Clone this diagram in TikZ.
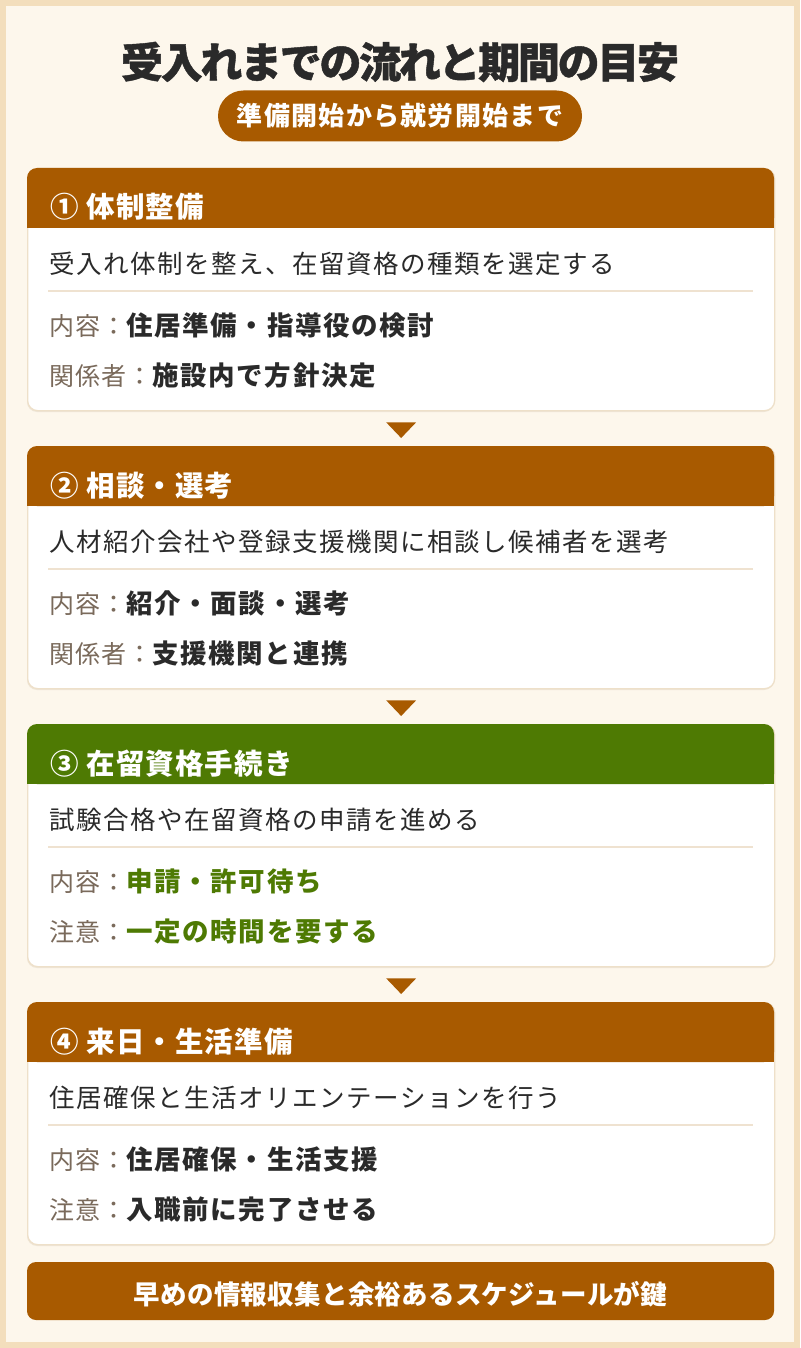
\documentclass[tikz,border=0pt]{standalone}
\usepackage{fontspec}
\setmainfont{Noto Sans CJK JP}
\usetikzlibrary{calc}
\definecolor{frame}{HTML}{F3DEBC}
\definecolor{paper}{HTML}{FDF7EC}
\definecolor{brownc}{HTML}{A85A00}
\definecolor{greenc}{HTML}{4E7A03}
\definecolor{darkt}{HTML}{2A2A2A}
\definecolor{labc}{HTML}{7A6A5B}
\definecolor{sepc}{HTML}{EFE2D0}
\definecolor{cardline}{HTML}{EEE0C9}
\definecolor{shadowc}{HTML}{EFE6D8}
\tikzset{
  txt/.style={inner sep=0pt, anchor=base west},
  titletxt/.style={inner sep=0pt, anchor=base, text=darkt,
    font=\fontsize{42}{44}\selectfont\bfseries\addfontfeature{LetterSpace=-5.5,FakeBold=1}},
  pill/.style={fill=brownc, rounded corners=25.5pt, minimum width=364pt, minimum height=51pt,
    inner sep=0pt, text=white, text height=21pt, text depth=2pt,
    font=\fontsize{26}{28}\selectfont\bfseries\addfontfeature{LetterSpace=5}},
  banner/.style={fill=brownc, rounded corners=9pt, minimum width=747pt, minimum height=58pt,
    inner sep=0pt, text=white, text height=26pt, text depth=0pt,
    font=\fontsize{26.5}{28}\selectfont\bfseries\addfontfeature{LetterSpace=1}},
  cardbody/.style={draw=cardline, line width=1.3pt, fill=white, rounded corners=10pt,
    minimum width=747pt, minimum height=242pt, inner sep=0pt, anchor=north west},
  headtxt/.style={txt, text=white,
    font=\fontsize{28.5}{30}\selectfont\bfseries\addfontfeature{LetterSpace=4}},
  desctxt/.style={txt, text=darkt,
    font=\fontsize{25.5}{27}\selectfont\addfontfeature{LetterSpace=6}},
  labtxt/.style={txt, text=labc,
    font=\fontsize{25}{27}\selectfont\addfontfeature{LetterSpace=4}},
  valtxt/.style={txt, text=\valcol,
    font=\fontsize{26.5}{28}\selectfont\bfseries\addfontfeature{LetterSpace=6}},
  sepline/.style={draw=sepc, line width=1.5pt},
  downtri/.style={fill=brownc},
}
\newcommand\valcol{darkt}
% #1 name, #2 top, #3 header colour, #4 header, #5 description,
% #6 label 1, #7 value 1, #8 label 2, #9 value 2
\newcommand\stepcard[9]{%
  \fill[shadowc, rounded corners=10pt] (27,#2+2) rectangle (774,#2+244);
  \node[cardbody] (#1) at (27,#2) {};
  \fill[#3, rounded corners=10pt] (27,#2) rectangle (774,#2+60);
  \fill[#3] (27,#2+30) rectangle (774,#2+60);
  \node[headtxt] (#1-h) at (50,#2+50) {#4};
  \node[desctxt] (#1-d) at (49,#2+105.5) {#5};
  \coordinate (#1-sa) at (48,#2+123);
  \coordinate (#1-sb) at (753,#2+123);
  \draw[sepline] (#1-sa) -- (#1-sb);
  \node[labtxt] (#1-l1) at (49,#2+167) {#6};
  \node[valtxt] (#1-v1) at (#1-l1.base east) {#7};
  \node[labtxt] (#1-l2) at (49,#2+217) {#8};
  \node[valtxt] (#1-v2) at (#1-l2.base east) {#9};
}
\begin{document}
\begin{tikzpicture}[x=1pt,y=-1pt]
\useasboundingbox (0,0) rectangle (800,1348);
\fill[frame] (0,0) rectangle (800,1348);
\fill[paper] (6,6) rectangle (794,1342);
\node[titletxt] (title) at (400,78) {受入れまでの流れと期間の目安};
\node[pill] (sub) at (400,116) {準備開始から就労開始まで};

\stepcard{c1}{168}{brownc}{① 体制整備}{受入れ体制を整え、在留資格の種類を選定する}{内容：}{住居準備・指導役の検討}{関係者：}{施設内で方針決定}
\stepcard{c2}{446}{brownc}{② 相談・選考}{人材紹介会社や登録支援機関に相談し候補者を選考}{内容：}{紹介・面談・選考}{関係者：}{支援機関と連携}
\renewcommand\valcol{greenc}
\stepcard{c3}{724}{greenc}{③ 在留資格手続き}{試験合格や在留資格の申請を進める}{内容：}{申請・許可待ち}{注意：}{一定の時間を要する}
\renewcommand\valcol{darkt}
\stepcard{c4}{1002}{brownc}{④ 来日・生活準備}{住居確保と生活オリエンテーションを行う}{内容：}{住居確保・生活支援}{注意：}{入職前に完了させる}

\fill[downtri] ($(c1.south)+(-15,11)$) -- ($(c1.south)+(15,11)$) -- ($(c2.north)+(0,-8)$) -- cycle;
\fill[downtri] ($(c2.south)+(-15,11)$) -- ($(c2.south)+(15,11)$) -- ($(c3.north)+(0,-8)$) -- cycle;
\fill[downtri] ($(c3.south)+(-15,11)$) -- ($(c3.south)+(15,11)$) -- ($(c4.north)+(0,-8)$) -- cycle;

\node[banner] (key) at (400.5,1291) {早めの情報収集と余裕あるスケジュールが鍵};
\end{tikzpicture}
\end{document}
